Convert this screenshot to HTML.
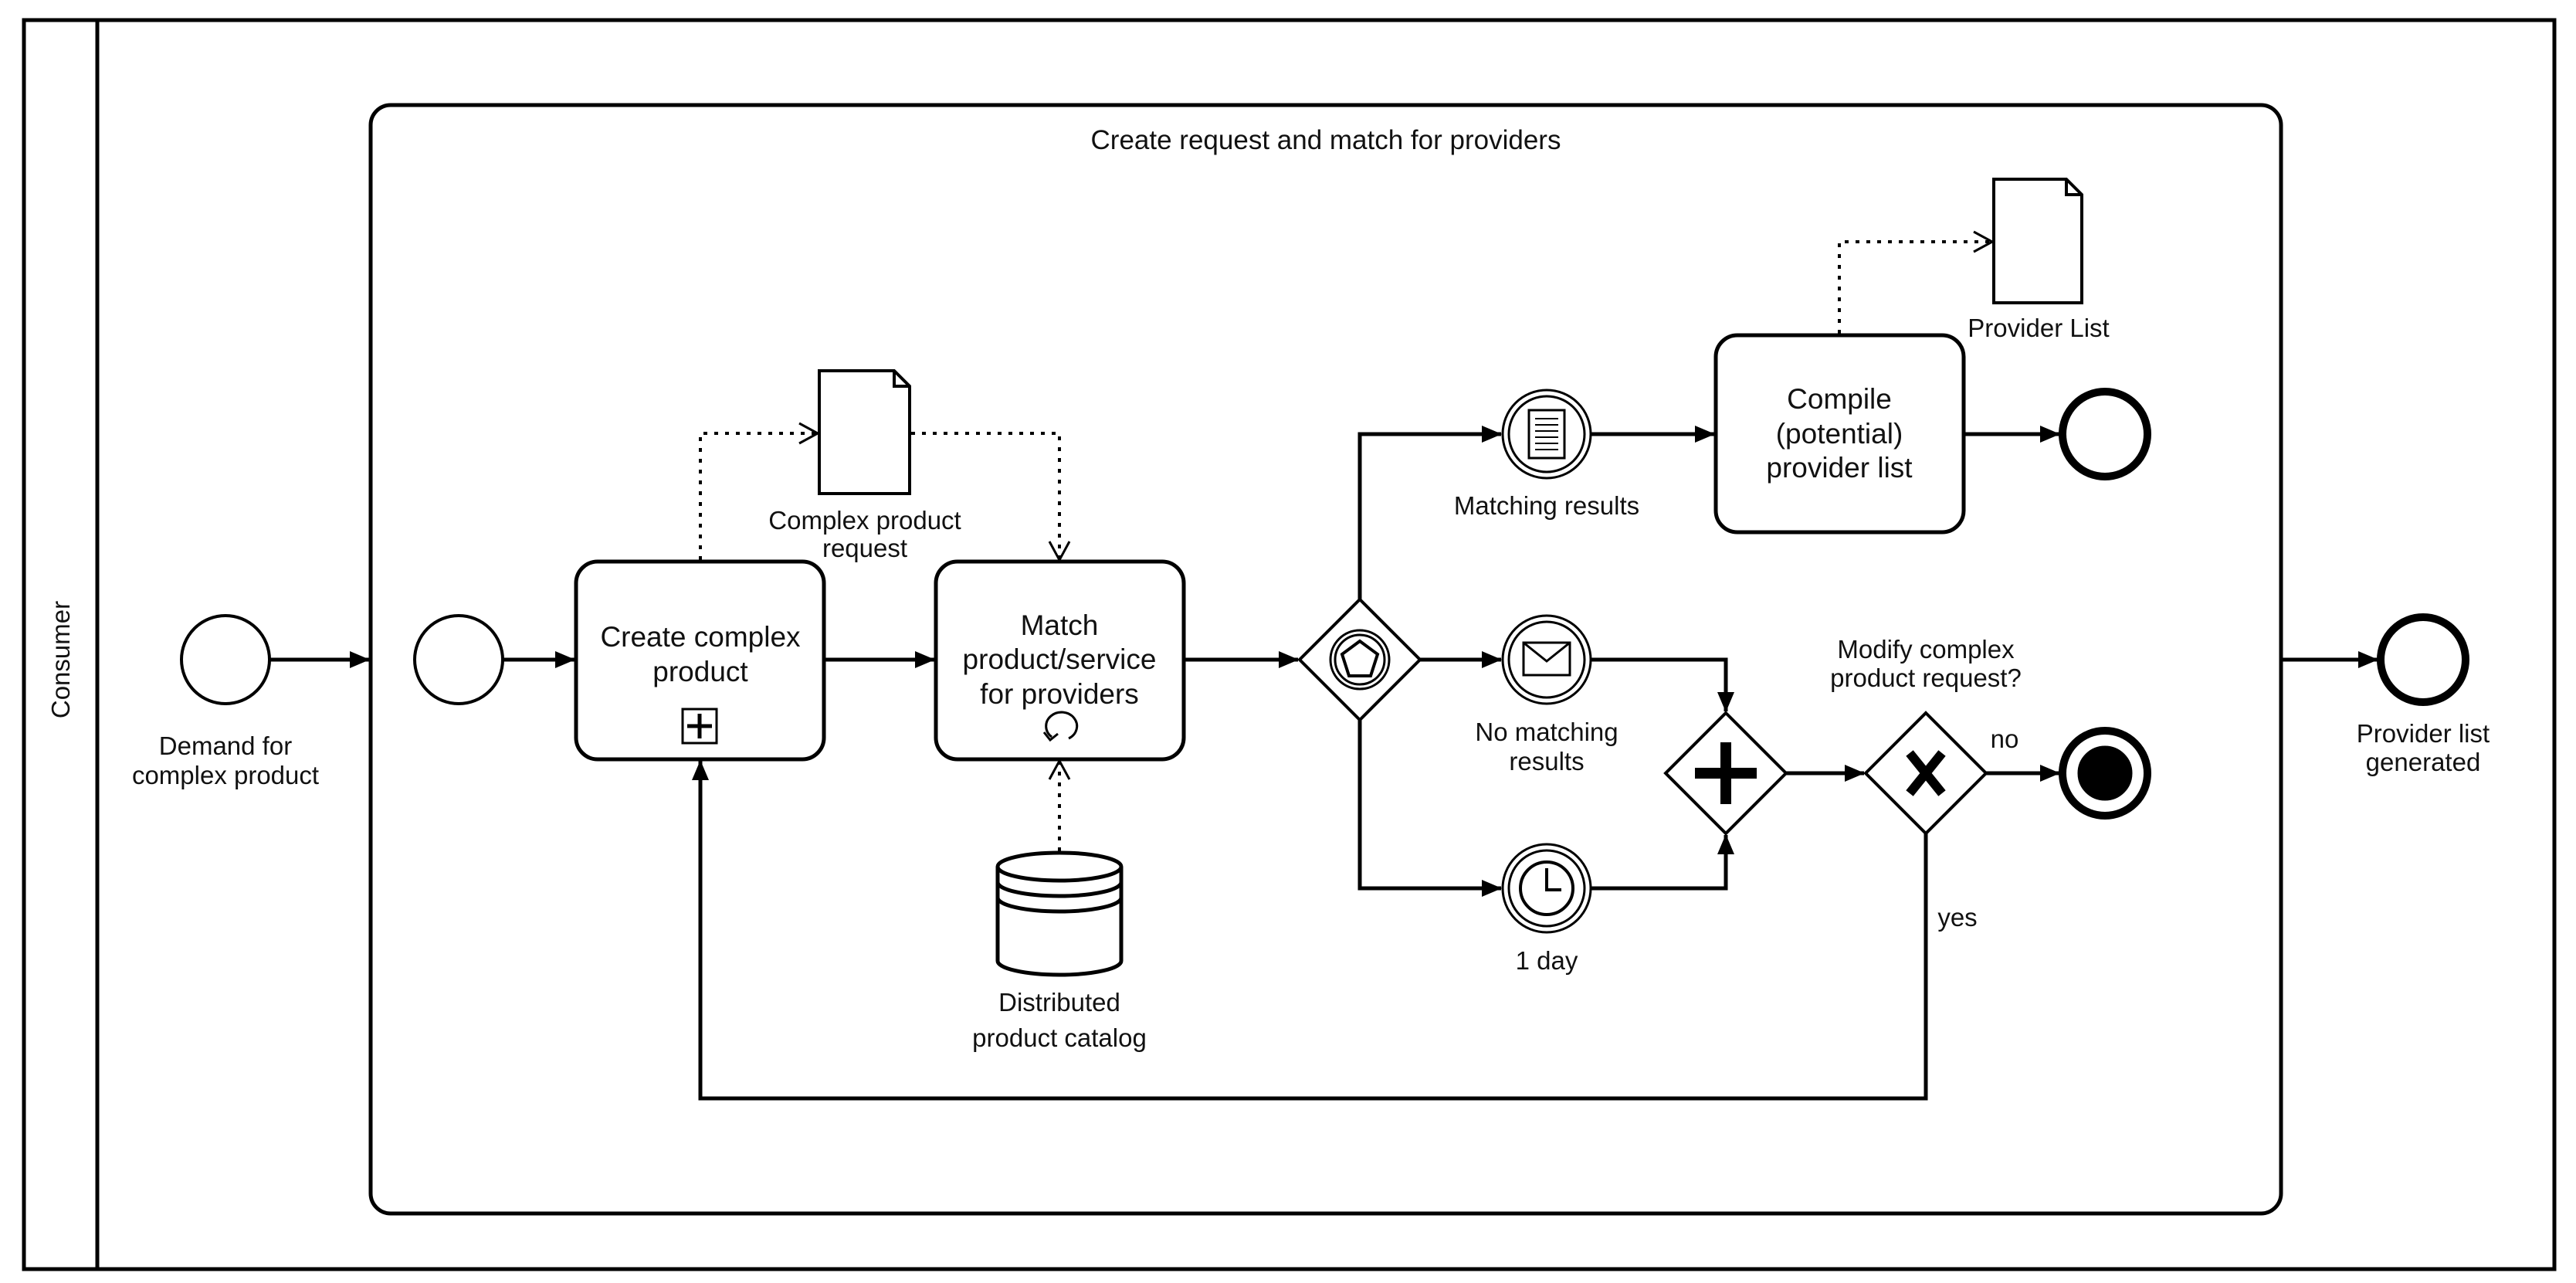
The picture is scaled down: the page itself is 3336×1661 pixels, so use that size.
<!DOCTYPE html>
<html><head><meta charset="utf-8"><style>
html,body{margin:0;padding:0;background:#fff}
svg{display:block}
text{font-family:"Liberation Sans",Arial,sans-serif;fill:#111}
</style></head><body>
<svg width="3336" height="1661" viewBox="0 0 3336 1661" xmlns="http://www.w3.org/2000/svg">
<defs>
<marker id="a" markerWidth="26" markerHeight="22" refX="25" refY="11" orient="auto" markerUnits="userSpaceOnUse"><path d="M0,0 L26,11 L0,22 Z" fill="#000"/></marker>
<marker id="o" markerWidth="30" markerHeight="30" refX="26" refY="15" orient="auto" markerUnits="userSpaceOnUse"><path d="M2,2 L26,15 L2,28" fill="none" stroke="#000" stroke-width="3"/></marker>
</defs>
<g fill="none" stroke="#000">
<!-- pool -->
<rect x="31" y="26" width="3277" height="1617" stroke-width="5"/>
<line x1="126" y1="26" x2="126" y2="1643" stroke-width="5"/>
<!-- subprocess -->
<rect x="480" y="136" width="2474" height="1435" rx="26" stroke-width="5"/>
<!-- start events -->
<circle cx="292" cy="854" r="57" stroke-width="4"/>
<circle cx="594" cy="854" r="57" stroke-width="4"/>
<!-- tasks -->
<rect x="746" y="727" width="321" height="256" rx="28" stroke-width="5"/>
<rect x="1212" y="727" width="321" height="256" rx="28" stroke-width="5"/>
<rect x="2222" y="434" width="321" height="255" rx="28" stroke-width="5"/>
<rect x="884" y="918" width="44" height="44" stroke-width="3"/>
<path d="M906,924 V956 M890,940 H922" stroke-width="5"/>
<path d="M1362,954 A20,18 0 1 1 1384,956" stroke-width="3"/>
<path d="M1352,948 L1360,958 L1370,950" stroke-width="3"/>
<!-- data objects -->
<path d="M1061,480 H1158 L1178,500 V639 H1061 Z M1158,480 V500 H1178" stroke-width="4"/>
<path d="M2582,232 H2676 L2696,252 V392 H2582 Z M2676,232 V252 H2696" stroke-width="4"/>
<!-- data store -->
<path d="M1292,1122 V1244 A80,18 0 0 0 1452,1244 V1122" fill="#fff" stroke-width="5"/>
<ellipse cx="1372" cy="1122" rx="80" ry="18" stroke-width="5"/>
<path d="M1292,1142 A80,18 0 0 0 1452,1142 M1292,1162 A80,18 0 0 0 1452,1162" stroke-width="5"/>
<!-- event gateway -->
<path d="M1761,776 L1839,854 L1761,932 L1683,854 Z" stroke-width="4"/>
<circle cx="1761" cy="854" r="38" stroke-width="3"/>
<circle cx="1761" cy="854" r="32" stroke-width="3"/>
<path d="M1761,830 L1784,847 L1775,875 L1747,875 L1738,847 Z" stroke-width="4"/>
<!-- intermediate events -->
<circle cx="2003" cy="562" r="57" stroke-width="3"/><circle cx="2003" cy="562" r="49" stroke-width="3"/>
<circle cx="2003" cy="854" r="57" stroke-width="3"/><circle cx="2003" cy="854" r="49" stroke-width="3"/>
<circle cx="2003" cy="1150" r="57" stroke-width="3"/><circle cx="2003" cy="1150" r="49" stroke-width="3"/>
<rect x="1980" y="531" width="46" height="62" stroke-width="3"/>
<path d="M1988,542 H2018 M1988,550 H2018 M1988,558 H2018 M1988,566 H2018 M1988,574 H2018 M1988,582 H2018" stroke-width="2"/>
<rect x="1973" y="832" width="60" height="42" stroke-width="3"/>
<path d="M1973,832 L2003,856 L2033,832" stroke-width="3"/>
<circle cx="2003" cy="1150" r="34" stroke-width="4"/>
<path d="M2003,1124 V1152 H2022" stroke-width="4"/>
<!-- parallel gateway -->
<path d="M2235,923 L2313,1001 L2235,1079 L2157,1001 Z" stroke-width="4"/>
<path d="M2235,961 V1041 M2195,1001 H2275" stroke-width="14"/>
<!-- xor gateway -->
<path d="M2494,923 L2572,1001 L2494,1079 L2416,1001 Z" stroke-width="4"/>
<path d="M2473,975 L2515,1027 M2515,975 L2473,1027" stroke-width="12"/>
<!-- end events -->
<circle cx="2726" cy="562" r="55" stroke-width="10"/>
<circle cx="2726" cy="1001" r="55" stroke-width="10"/>
<circle cx="2726" cy="1001" r="35" fill="#000"/>
<circle cx="3138" cy="854" r="55" stroke-width="10"/>
<!-- sequence flows -->
<g stroke-width="5">
<path d="M349,854 H478" marker-end="url(#a)"/>
<path d="M651,854 H744" marker-end="url(#a)"/>
<path d="M1067,854 H1210" marker-end="url(#a)"/>
<path d="M1533,854 H1681" marker-end="url(#a)"/>
<path d="M1761,776 V562 H1944" marker-end="url(#a)"/>
<path d="M1839,854 H1944" marker-end="url(#a)"/>
<path d="M1761,932 V1150 H1944" marker-end="url(#a)"/>
<path d="M2060,562 H2220" marker-end="url(#a)"/>
<path d="M2543,562 H2667" marker-end="url(#a)"/>
<path d="M2060,854 H2235 V921" marker-end="url(#a)"/>
<path d="M2060,1150 H2235 V1081" marker-end="url(#a)"/>
<path d="M2313,1001 H2414" marker-end="url(#a)"/>
<path d="M2572,1001 H2667" marker-end="url(#a)"/>
<path d="M2494,1079 V1422 H907 V985" marker-end="url(#a)"/>
<path d="M2954,854 H3079" marker-end="url(#a)"/>
</g>
<!-- associations -->
<g stroke-width="4" stroke-dasharray="5,9">
<path d="M907,725 V561 H1059" marker-end="url(#o)"/>
<path d="M1180,561 H1372 V725" marker-end="url(#o)"/>
<path d="M1372,1102 V985" marker-end="url(#o)"/>
<path d="M2382,432 V313 H2580" marker-end="url(#o)"/>
</g>
</g>
<!-- text -->
<g font-size="33" text-anchor="middle">
<text x="171" y="854" transform="rotate(-90 79 854)" x2="0" dx="-92" dy="11">Consumer</text>
<text x="1717" y="193" font-size="35">Create request and match for providers</text>
<text x="292" y="977">Demand for</text><text x="292" y="1015">complex product</text>
<text x="907" y="837" font-size="37">Create complex</text><text x="907" y="882" font-size="37">product</text>
<text x="1372" y="822" font-size="37">Match</text><text x="1372" y="866" font-size="37">product/service</text><text x="1372" y="911" font-size="37">for providers</text>
<text x="1120" y="685">Complex product</text><text x="1120" y="721">request</text>
<text x="1372" y="1309">Distributed</text><text x="1372" y="1355">product catalog</text>
<text x="2003" y="666">Matching results</text>
<text x="2003" y="959">No matching</text><text x="2003" y="997">results</text>
<text x="2003" y="1255">1 day</text>
<text x="2382" y="529" font-size="37">Compile</text><text x="2382" y="574" font-size="37">(potential)</text><text x="2382" y="618" font-size="37">provider list</text>
<text x="2640" y="436">Provider List</text>
<text x="2494" y="852">Modify complex</text><text x="2494" y="889">product request?</text>
<text x="2596" y="968">no</text>
<text x="2535" y="1199">yes</text>
<text x="3138" y="961">Provider list</text><text x="3138" y="998">generated</text>
</g>
</svg>
</body></html>
